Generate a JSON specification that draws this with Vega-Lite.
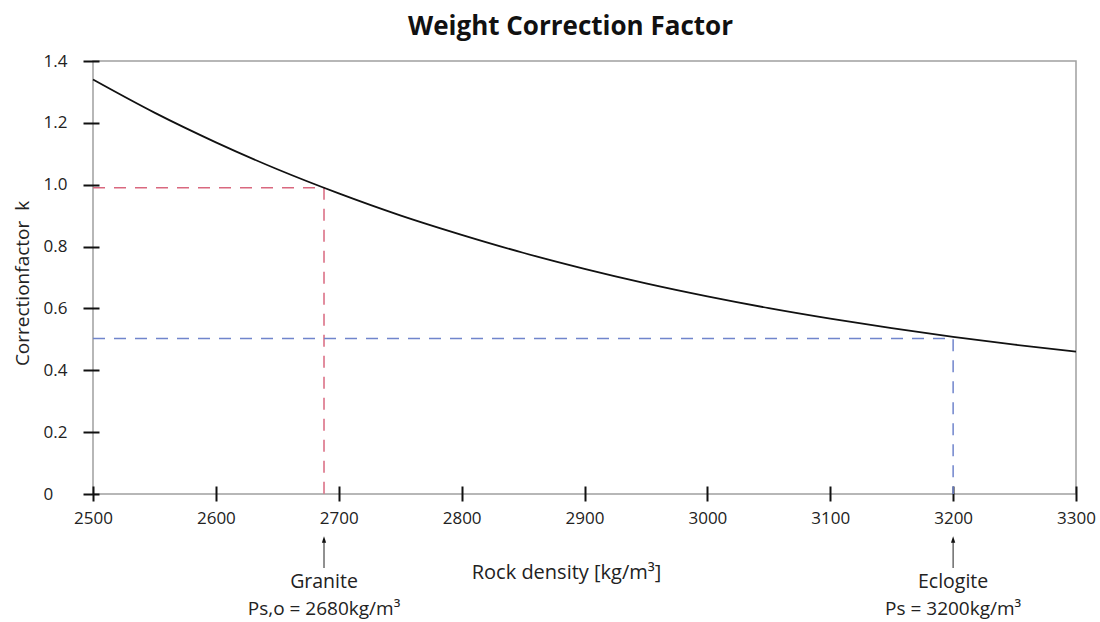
{
  "$schema": "https://vega.github.io/schema/vega-lite/v6.json",
  "autosize": {"type": "none"},
  "width": 983,
  "height": 433,
  "padding": {"left": 93, "top": 61, "right": 24, "bottom": 128},
  "background": "white",
  "config": {
    "font": "Open Sans",
    "view": {"stroke": "#a0a0a0", "strokeWidth": 1.5},
    "axis": {"grid": false, "domain": false, "labelColor": "#222", "titleColor": "#222", "labelFont": "Open Sans", "titleFont": "Open Sans", "titleFontWeight": "normal", "tickColor": "#111", "tickWidth": 2}
  },
  "title": {"text": "Weight Correction Factor", "font": "Open Sans", "fontSize": 26, "fontWeight": "bold", "color": "#111", "anchor": "middle", "dx": -14, "offset": 12},
  "datasets": {
    "curve": [
      {"rho": 2500, "k": 1.34},
      {"rho": 2550, "k": 1.233},
      {"rho": 2600, "k": 1.137},
      {"rho": 2650, "k": 1.05},
      {"rho": 2700, "k": 0.972},
      {"rho": 2750, "k": 0.901},
      {"rho": 2800, "k": 0.838},
      {"rho": 2850, "k": 0.78},
      {"rho": 2900, "k": 0.728},
      {"rho": 2950, "k": 0.681},
      {"rho": 3000, "k": 0.639},
      {"rho": 3050, "k": 0.601},
      {"rho": 3100, "k": 0.567},
      {"rho": 3150, "k": 0.536},
      {"rho": 3200, "k": 0.508},
      {"rho": 3250, "k": 0.483},
      {"rho": 3300, "k": 0.46}
    ],
    "guides": [
      {"g": "Granite", "o": 1, "rho": 2500, "k": 0.99},
      {"g": "Granite", "o": 2, "rho": 2688, "k": 0.99},
      {"g": "Granite", "o": 3, "rho": 2688, "k": 0},
      {"g": "Eclogite", "o": 1, "rho": 2500, "k": 0.503},
      {"g": "Eclogite", "o": 2, "rho": 3200, "k": 0.503},
      {"g": "Eclogite", "o": 3, "rho": 3200, "k": 0}
    ],
    "notes": [
      {"rho": 2688, "name": "Granite", "formula": "Ps,o = 2680kg/m³"},
      {"rho": 3200, "name": "Eclogite", "formula": "Ps = 3200kg/m³"}
    ]
  },
  "layer": [
    {
      "data": {"name": "guides"},
      "mark": {"type": "line", "strokeDash": [12, 9], "strokeWidth": 1.5},
      "encoding": {
        "x": {"field": "rho", "type": "quantitative", "scale": {"domain": [2500, 3300], "nice": false, "zero": false},
          "axis": {"orient": "bottom", "offset": -8, "tickSize": 15, "values": [2500, 2600, 2700, 2800, 2900, 3000, 3100, 3200, 3300], "format": "d", "labelPadding": 9, "labelFontSize": 17, "labelFlush": false, "title": "Rock density [kg/m³]", "titleFontSize": 20, "titleX": 473, "titleY": 86, "titleBaseline": "middle"}},
        "y": {"field": "k", "type": "quantitative", "scale": {"domain": [0, 1.4], "nice": false},
          "axis": {"orient": "left", "offset": -6, "tickSize": 16, "values": [0, 0.2, 0.4, 0.6, 0.8, 1.0, 1.2, 1.4], "labelExpr": "datum.value == 0 ? '0' : format(datum.value, '.1f')", "labelAlign": "left", "labelBaseline": "middle", "labelPadding": 40, "labelFontSize": 17, "labelFlush": false, "title": "Correctionfactor\u00a0\u00a0k", "titleFontSize": 19, "titleX": -77, "titleY": 222, "titleBaseline": "middle", "titleAlign": "center", "titleAngle": -90}},
        "color": {"field": "g", "type": "nominal", "scale": {"domain": ["Granite", "Eclogite"], "range": ["#d9687f", "#7085cc"]}, "legend": null},
        "order": {"field": "o", "type": "quantitative"}
      }
    },
    {
      "data": {"name": "curve"},
      "mark": {"type": "line", "color": "#111", "strokeWidth": 1.8, "interpolate": "monotone"},
      "encoding": {
        "x": {"field": "rho", "type": "quantitative"},
        "y": {"field": "k", "type": "quantitative"}
      }
    },
    {
      "data": {"name": "notes"},
      "mark": {"type": "rule", "color": "#555", "strokeWidth": 1.3},
      "encoding": {
        "x": {"field": "rho", "type": "quantitative"},
        "y": {"datum": -0.239},
        "y2": {"datum": -0.15}
      }
    },
    {
      "data": {"name": "notes"},
      "mark": {"type": "point", "shape": "M-0.33,0.5L0,-0.5L0.33,0.5Z", "filled": true, "color": "#111", "size": 170, "opacity": 1},
      "encoding": {
        "x": {"field": "rho", "type": "quantitative"},
        "y": {"datum": -0.147}
      }
    },
    {
      "data": {"name": "notes"},
      "mark": {"type": "text", "fontSize": 19.5, "color": "#222", "baseline": "middle", "align": "center"},
      "encoding": {
        "x": {"field": "rho", "type": "quantitative"},
        "y": {"datum": -0.284},
        "text": {"field": "name"}
      }
    },
    {
      "data": {"name": "notes"},
      "mark": {"type": "text", "fontSize": 19, "color": "#222", "baseline": "middle", "align": "center"},
      "encoding": {
        "x": {"field": "rho", "type": "quantitative"},
        "y": {"datum": -0.373},
        "text": {"field": "formula"}
      }
    }
  ]
}
